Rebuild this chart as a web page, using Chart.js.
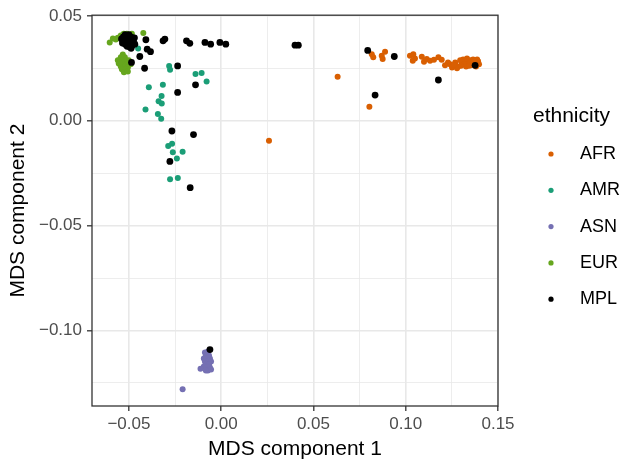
<!DOCTYPE html>
<html>
<head>
<meta charset="utf-8">
<script src="https://cdn.jsdelivr.net/npm/chart.js@4.4.0/dist/chart.umd.min.js"></script>
<style>
  html, body { margin: 0; padding: 0; background: #ffffff; }
  #wrap { width: 627px; height: 468px; }
</style>
</head>
<body>
<div id="wrap"><canvas id="grafica-mds" width="627" height="468"></canvas></div>
<script>
// Grups i colors
const grups = ["AFR", "AMR", "ASN", "EUR", "MPL"];
const colors = ["#D95F02", "#1B9E77", "#7570B3", "#66A61E", "#000000"];

// Ticks dels eixos (major cada 0.05, minor cada 0.025)
const ticksX = [-0.05, -0.025, 0, 0.025, 0.05, 0.075, 0.1, 0.125, 0.15];
const ticksY = [-0.125, -0.1, -0.075, -0.05, -0.025, 0, 0.025, 0.05];

// Punts [MDS1, MDS2] llegits del grafic
const puntsAFR = [
    [0.0259, -0.0095], [0.0631, 0.0210], [0.0803, 0.0066],
    [0.0816, 0.0317], [0.0824, 0.0302], [0.0870, 0.0310], [0.0888, 0.0329], [0.0875, 0.0294],
    [0.1023, 0.0310], [0.1041, 0.0317], [0.1038, 0.0286], [0.1050, 0.0297],
    [0.1087, 0.0305], [0.1099, 0.0281], [0.1114, 0.0294], [0.1132, 0.0286], [0.1153, 0.0291],
    [0.1177, 0.0302], [0.1195, 0.0291],
    [0.1240, 0.0269], [0.1268, 0.0278], [0.1284, 0.0259], [0.1305, 0.0273], [0.1322, 0.0283],
    [0.1338, 0.0269], [0.1349, 0.0288], [0.1360, 0.0278], [0.1376, 0.0273], [0.1392, 0.0283],
    [0.1397, 0.0269], [0.1311, 0.0292], [0.1332, 0.0297], [0.1365, 0.0292], [0.1387, 0.0292],
    [0.1295, 0.0288], [0.1251, 0.0254], [0.1278, 0.0250], [0.1327, 0.0259], [0.1354, 0.0264],
    [0.1381, 0.0259], [0.1229, 0.0278], [0.1349, 0.0278], [0.1316, 0.0269], [0.1213, 0.0264],
    [0.1300, 0.0262], [0.1343, 0.0262], [0.1370, 0.0284], [0.1260, 0.0266]
];

const puntsAMR = [
    [-0.0282, 0.0261], [-0.0277, 0.0243], [-0.0139, 0.0223], [-0.0106, 0.0227], [-0.0079, 0.0187],
    [-0.0392, 0.0160], [-0.0316, 0.0172], [-0.0323, 0.0118], [-0.0339, 0.0093], [-0.0322, 0.0082],
    [-0.0410, 0.0054], [-0.0343, 0.0032], [-0.0325, 0.0009], [-0.0287, -0.0120], [-0.0266, -0.0110],
    [-0.0262, -0.0150], [-0.0209, -0.0148], [-0.0240, -0.0180], [-0.0277, -0.0279], [-0.0235, -0.0273],
    [-0.0450, 0.0344]
];

const puntsASN = [
    [-0.0088, -0.1105], [-0.0072, -0.1100], [-0.0083, -0.1119], [-0.0066, -0.1119], [-0.0094, -0.1134],
    [-0.0078, -0.1134], [-0.0061, -0.1134], [-0.0088, -0.1148], [-0.0072, -0.1148], [-0.0055, -0.1148],
    [-0.0083, -0.1162], [-0.0066, -0.1162], [-0.0094, -0.1172], [-0.0078, -0.1176], [-0.0061, -0.1176],
    [-0.0072, -0.1191], [-0.0055, -0.1186], [-0.0083, -0.1191],
    [-0.0112, -0.1182], [-0.0209, -0.1280]
];

const puntsEUR = [
    [-0.0604, 0.0373], [-0.0587, 0.0392], [-0.0571, 0.0387], [-0.0560, 0.0396], [-0.0544, 0.0406],
    [-0.0528, 0.0415], [-0.0422, 0.0418], [-0.0484, 0.0415], [-0.0511, 0.0415],
    [-0.0533, 0.0316], [-0.0544, 0.0302], [-0.0522, 0.0302], [-0.0560, 0.0288], [-0.0538, 0.0288],
    [-0.0517, 0.0288], [-0.0501, 0.0288], [-0.0555, 0.0273], [-0.0533, 0.0273], [-0.0511, 0.0273],
    [-0.0490, 0.0269], [-0.0544, 0.0259], [-0.0522, 0.0259], [-0.0506, 0.0254], [-0.0538, 0.0245],
    [-0.0517, 0.0245], [-0.0527, 0.0231], [-0.0506, 0.0235], [-0.0549, 0.0278], [-0.0527, 0.0297]
];

const puntsMPL = [
    // nucli de dalt a l'esquerra
    [-0.0530, 0.0400], [-0.0520, 0.0410], [-0.0510, 0.0405], [-0.0500, 0.0410], [-0.0490, 0.0400],
    [-0.0480, 0.0395], [-0.0525, 0.0385], [-0.0515, 0.0380], [-0.0505, 0.0390], [-0.0495, 0.0385],
    [-0.0485, 0.0380], [-0.0475, 0.0385], [-0.0535, 0.0370], [-0.0520, 0.0365], [-0.0505, 0.0370],
    [-0.0490, 0.0365], [-0.0478, 0.0372], [-0.0510, 0.0355], [-0.0495, 0.0352], [-0.0482, 0.0358],
    [-0.0540, 0.0390], [-0.0470, 0.0395], [-0.0500, 0.0395], [-0.0515, 0.0398], [-0.0492, 0.0375],
    [-0.0468, 0.0365], [-0.0488, 0.0345],
    // resta
    [-0.0408, 0.0386], [-0.0315, 0.0381], [-0.0305, 0.0389], [-0.0188, 0.0381], [-0.0170, 0.0369],
    [-0.0088, 0.0373], [-0.0057, 0.0365], [-0.0007, 0.0373], [0.0025, 0.0365], [-0.0441, 0.0306],
    [-0.0401, 0.0341], [-0.0383, 0.0329], [-0.0415, 0.0250], [-0.0236, 0.0261], [-0.0139, 0.0171],
    [-0.0236, 0.0135], [-0.0267, -0.0049], [-0.0150, -0.0066], [-0.0278, -0.0194], [-0.0168, -0.0319],
    [-0.0486, 0.0278],
    [0.0400, 0.0360], [0.0418, 0.0360], [0.0794, 0.0335], [0.0938, 0.0306], [0.1177, 0.0194],
    [0.0834, 0.0122], [0.1376, 0.0264],
    [-0.0061, -0.1091]
];

const puntsPerGrup = [puntsAFR, puntsAMR, puntsASN, puntsEUR, puntsMPL];

function esMajor(v) {
    return Math.abs(v / 0.05 - Math.round(v / 0.05)) < 1e-6;
}

// Format de les etiquetes (signe menys tipografic)
function formatTick(v) {
    if (!esMajor(v)) return "";
    return v.toFixed(2).replace("-", "\u2212");
}

// Vora del panell i llegenda a la dreta
const voraILlegenda = {
    id: "voraILlegenda",
    afterDraw(chart) {
        const ctx = chart.ctx;
        const a = chart.chartArea;
        ctx.save();
        ctx.strokeStyle = "#333333";
        ctx.lineWidth = 1.3;
        ctx.strokeRect(a.left, a.top, a.right - a.left, a.bottom - a.top);

        ctx.fillStyle = "#000000";
        ctx.textBaseline = "middle";
        ctx.textAlign = "left";
        ctx.font = "21px 'Liberation Sans', Arial, sans-serif";
        ctx.fillText("ethnicity", 533, 116);

        ctx.font = "18px 'Liberation Sans', Arial, sans-serif";
        grups.forEach((g, i) => {
            const y = 154 + i * 36.3;
            ctx.beginPath();
            ctx.arc(551, y, 2.6, 0, Math.PI * 2);
            ctx.fillStyle = colors[i];
            ctx.fill();
            ctx.fillStyle = "#000000";
            ctx.fillText(g, 580, y);
        });
        ctx.restore();
    }
};

const datasets = grups.map((g, i) => ({
    label: g,
    data: puntsPerGrup[i].map(p => ({ x: p[0], y: p[1] })),
    backgroundColor: colors[i],
    borderWidth: 0,
    pointRadius: g === "MPL" ? 3.4 : 3.0,
    order: g === "MPL" ? 0 : 5 - i
}));

const ctx = document.getElementById("grafica-mds").getContext("2d");

new Chart(ctx, {
    type: "scatter",
    data: { datasets: datasets },
    options: {
        responsive: false,
        animation: false,
        layout: { padding: { top: 13, right: 129, bottom: 0, left: 0 } },
        plugins: {
            legend: { display: false },
            tooltip: { enabled: false }
        },
        scales: {
            x: {
                type: "linear",
                min: -0.07,
                max: 0.15,
                afterBuildTicks: (scale) => { scale.ticks = ticksX.map(v => ({ value: v })); },
                afterFit: (scale) => { scale.height = 62; },
                border: { display: false },
                grid: {
                    color: "#e8e8e8",
                    lineWidth: (c) => esMajor(c.tick.value) ? 1.6 : 0.8,
                    tickColor: (c) => esMajor(c.tick.value) ? "#333333" : "rgba(0,0,0,0)",
                    tickWidth: 1.3,
                    tickLength: 5
                },
                ticks: {
                    autoSkip: false,
                    maxRotation: 0,
                    padding: 3,
                    color: "#4d4d4d",
                    font: { family: "'Liberation Sans', Arial, sans-serif", size: 17 },
                    callback: (v) => formatTick(v)
                },
                title: {
                    display: true,
                    text: "MDS component 1",
                    color: "#000000",
                    font: { family: "'Liberation Sans', Arial, sans-serif", size: 21 },
                    padding: { top: 0, bottom: 6 }
                }
            },
            y: {
                type: "linear",
                min: -0.136,
                max: 0.0503,
                afterBuildTicks: (scale) => { scale.ticks = ticksY.map(v => ({ value: v })); },
                afterFit: (scale) => { scale.width = 92; },
                border: { display: false },
                grid: {
                    color: "#e8e8e8",
                    lineWidth: (c) => esMajor(c.tick.value) ? 1.6 : 0.8,
                    tickColor: (c) => esMajor(c.tick.value) ? "#333333" : "rgba(0,0,0,0)",
                    tickWidth: 1.3,
                    tickLength: 5
                },
                ticks: {
                    autoSkip: false,
                    padding: 5,
                    color: "#4d4d4d",
                    font: { family: "'Liberation Sans', Arial, sans-serif", size: 17 },
                    callback: (v) => formatTick(v)
                },
                title: {
                    display: true,
                    text: "MDS component 2",
                    color: "#000000",
                    font: { family: "'Liberation Sans', Arial, sans-serif", size: 21 },
                    padding: { top: 6, bottom: 0 }
                }
            }
        }
    },
    plugins: [voraILlegenda]
});
</script>
</body>
</html>
